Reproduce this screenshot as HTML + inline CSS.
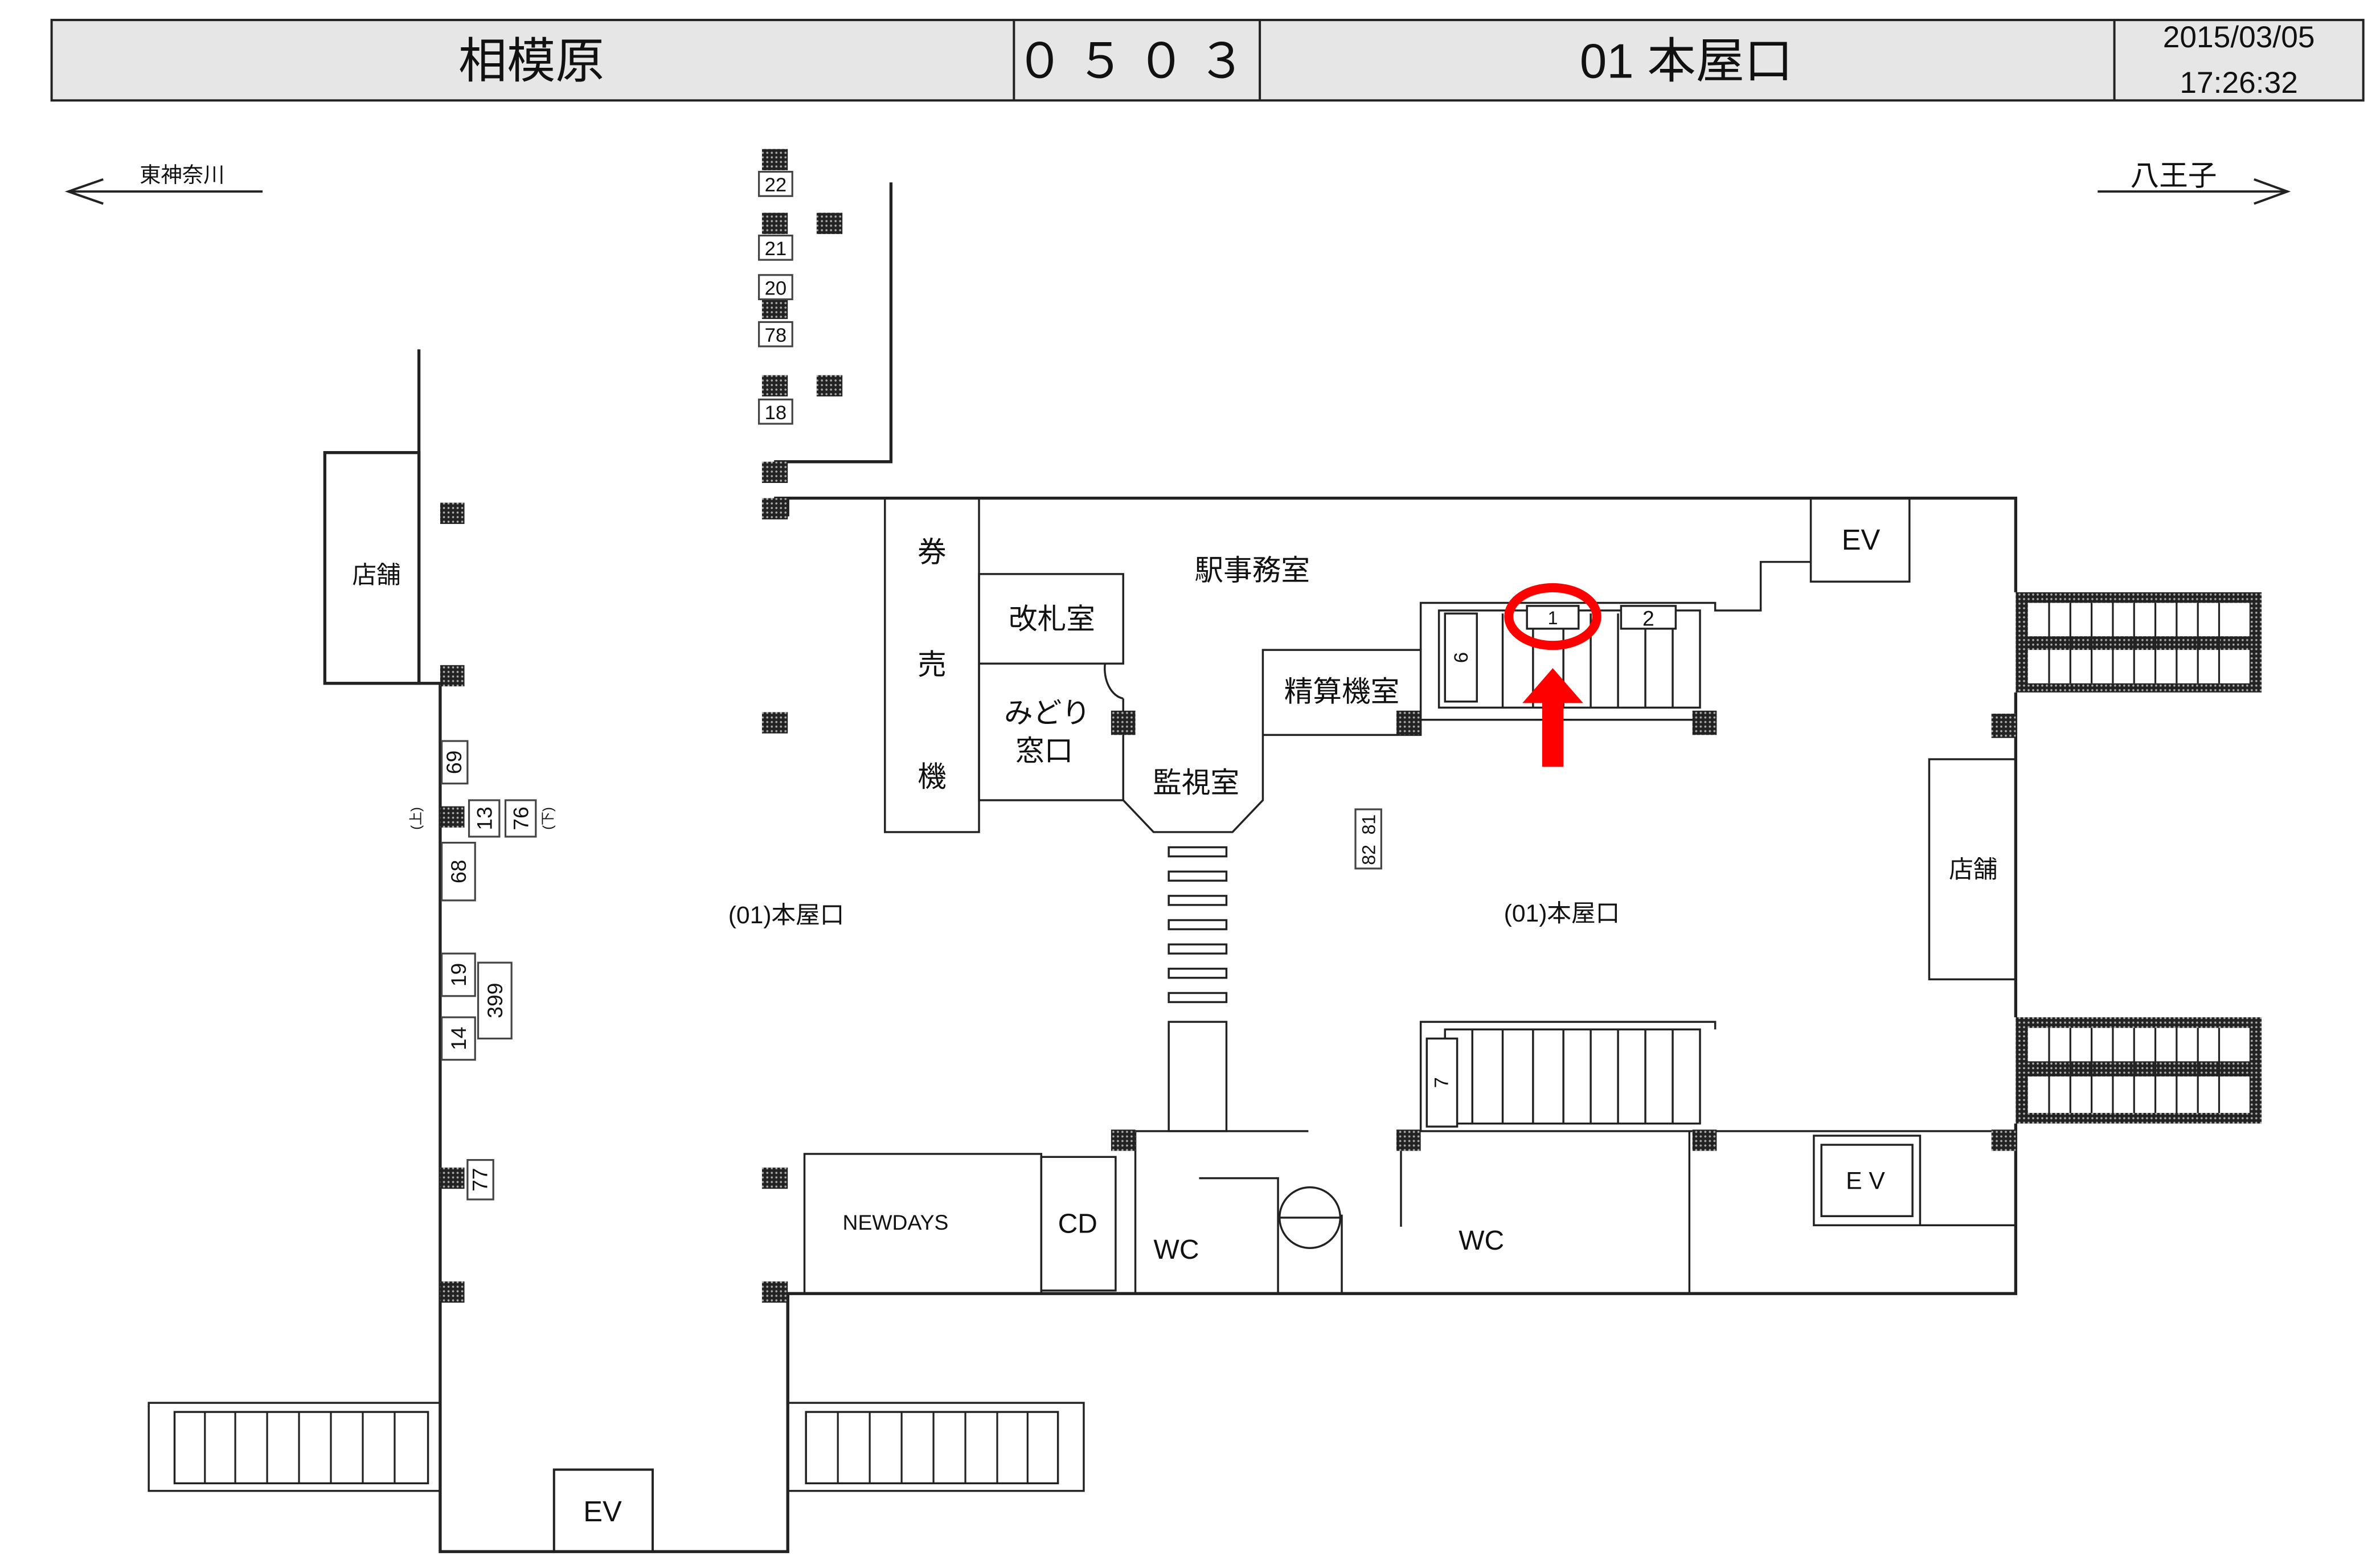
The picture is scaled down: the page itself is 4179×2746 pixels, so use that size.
<!DOCTYPE html>
<html><head><meta charset="utf-8"><style>
html,body{margin:0;padding:0;background:#fff;}
svg{display:block;}
text{font-family:"Liberation Sans","Noto Sans CJK JP",sans-serif;fill:#111;}
</style></head><body>
<svg width="4179" height="2746" viewBox="0 0 1568 1030" xmlns="http://www.w3.org/2000/svg">
<defs>
<pattern id="h" width="3" height="3" patternUnits="userSpaceOnUse"><rect width="3" height="3" fill="#222"/><circle cx="1.5" cy="1.5" r="0.7" fill="#aaa"/></pattern>
</defs>
<rect width="1568" height="1030" fill="#fff"/>
<!-- header -->
<rect x="34" y="13" width="1523" height="53" fill="#e6e6e6" stroke="#222" stroke-width="1.5"/>
<line x1="668" y1="13" x2="668" y2="66" stroke="#222" stroke-width="1.5"/>
<line x1="830" y1="13" x2="830" y2="66" stroke="#222" stroke-width="1.5"/>
<line x1="1393" y1="13" x2="1393" y2="66" stroke="#222" stroke-width="1.5"/>
<text x="350" y="51" font-size="32" text-anchor="middle">相模原</text>
<text x="749" y="51" font-size="32" text-anchor="middle" letter-spacing="8">０５０３</text>
<text x="1111" y="51" font-size="32" text-anchor="middle">01 本屋口</text>
<text x="1475" y="31" font-size="20" text-anchor="middle">2015/03/05</text>
<text x="1475" y="61" font-size="20" text-anchor="middle">17:26:32</text>
<!-- direction arrows -->
<g stroke="#222" stroke-width="1.5" fill="none">
<line x1="45" y1="126" x2="173" y2="126"/><polyline points="68,118 45,126 68,134"/>
<line x1="1382" y1="126" x2="1507" y2="126"/><polyline points="1485,118 1507,126 1485,134"/>
</g>
<text x="120" y="120" font-size="14" text-anchor="middle">東神奈川</text>
<text x="1432" y="122" font-size="19" text-anchor="middle">八王子</text>

<g stroke="#222" stroke-width="2" fill="none">
<!-- left corridor -->
<line x1="276" y1="230" x2="276" y2="450"/>
<rect x="214" y="298" width="62" height="152" fill="#fff"/>
<polyline points="276,450 290,450 290,1022 519,1022 519,852"/>
<rect x="365" y="968" width="65" height="54" stroke-width="1.5"/>
<!-- top area -->
<polyline points="587,120 587,304 510,304"/>
<!-- main -->
<polyline points="510,328 1328,328 1328,390"/>
<polyline points="1328,456 1328,670"/>
<polyline points="1328,740 1328,852 519,852 519,925"/>
<line x1="519" y1="328" x2="519" y2="340"/>
</g>
<g stroke="#222" stroke-width="1.3" fill="none">
<rect x="583" y="328" width="62" height="220"/>
<rect x="645" y="378" width="95" height="59"/>
<polyline points="645,437 645,527 740,527"/>
<path d="M728,437 A14 20 0 0 0 740,460"/>
<polyline points="740,460 740,527 760,548 812,548 832,527 832,428 936,428 936,484 832,484"/>
<!-- upper stairs -->
<polyline points="936,428 936,397 1130,397 1130,402 1160,402 1160,370 1193,370"/>
<rect x="1193" y="328" width="65" height="55"/>
<rect x="948" y="402" width="172" height="64"/>
<line x1="936" y1="474" x2="1130" y2="474"/>
<rect x="952" y="404" width="21" height="58"/>
<line x1="990" y1="404" x2="990" y2="466"/><line x1="1010" y1="404" x2="1010" y2="466"/><line x1="1030" y1="414" x2="1030" y2="466"/><line x1="1048" y1="404" x2="1048" y2="466"/><line x1="1066" y1="404" x2="1066" y2="466"/><line x1="1084" y1="414" x2="1084" y2="466"/><line x1="1102" y1="404" x2="1102" y2="466"/>
<rect x="1006" y="399" width="34" height="15" fill="#fff"/>
<rect x="1068" y="399" width="36" height="15" fill="#fff"/>
<!-- right shop -->
<rect x="1271" y="500" width="57" height="145"/>
<!-- lower stairs -->
<polyline points="936,745 936,673 1130,673 1130,678"/>
<rect x="952" y="678" width="168" height="62"/>
<rect x="940" y="684" width="20" height="58" fill="#fff"/>
<line x1="970" y1="678" x2="970" y2="740"/><line x1="990" y1="678" x2="990" y2="740"/><line x1="1010" y1="678" x2="1010" y2="740"/><line x1="1030" y1="678" x2="1030" y2="740"/><line x1="1048" y1="678" x2="1048" y2="740"/><line x1="1066" y1="678" x2="1066" y2="740"/><line x1="1084" y1="678" x2="1084" y2="740"/><line x1="1102" y1="678" x2="1102" y2="740"/>
<line x1="920" y1="745" x2="1328" y2="745"/>
<rect x="1195" y="748" width="70" height="59"/><rect x="1200" y="754" width="60" height="47"/>
<line x1="1265" y1="807" x2="1328" y2="807"/>
<!-- bottom rooms -->
<rect x="530" y="760" width="156" height="92"/>
<rect x="686" y="762" width="49" height="88"/>
<line x1="748" y1="745" x2="748" y2="852"/>
<line x1="740" y1="745" x2="862" y2="745"/>
<polyline points="790,776 842,776 842,852"/>
<circle cx="863" cy="802" r="20"/><line x1="843" y1="802" x2="883" y2="802"/>
<line x1="884" y1="800" x2="884" y2="852"/>
<line x1="923" y1="750" x2="923" y2="808"/>
<line x1="1113" y1="745" x2="1113" y2="852"/>
<rect x="770" y="673" width="38" height="72"/>
<!-- left bottom stairs -->
<rect x="98" y="924" width="192" height="58"/><rect x="115" y="930" width="167" height="47"/>
<rect x="519" y="924" width="195" height="58"/><rect x="531" y="930" width="166" height="47"/>
</g>
<!-- stair steps bottom -->
<g stroke="#222" stroke-width="1.2">
<line x1="135" y1="930" x2="135" y2="977"/><line x1="155" y1="930" x2="155" y2="977"/><line x1="176" y1="930" x2="176" y2="977"/><line x1="197" y1="930" x2="197" y2="977"/><line x1="218" y1="930" x2="218" y2="977"/><line x1="239" y1="930" x2="239" y2="977"/><line x1="260" y1="930" x2="260" y2="977"/>
<line x1="552" y1="930" x2="552" y2="977"/><line x1="573" y1="930" x2="573" y2="977"/><line x1="594" y1="930" x2="594" y2="977"/><line x1="615" y1="930" x2="615" y2="977"/><line x1="636" y1="930" x2="636" y2="977"/><line x1="657" y1="930" x2="657" y2="977"/><line x1="677" y1="930" x2="677" y2="977"/>
</g>
<!-- crosswalk -->
<g fill="#fff" stroke="#222" stroke-width="1.3">
<rect x="770" y="558" width="38" height="6"/><rect x="770" y="574" width="38" height="6"/><rect x="770" y="590" width="38" height="6"/><rect x="770" y="606" width="38" height="6"/><rect x="770" y="622" width="38" height="6"/><rect x="770" y="638" width="38" height="6"/><rect x="770" y="654" width="38" height="6"/>
</g>
<!-- right external stairs -->
<g>
<rect x="1328" y="390" width="162" height="66" fill="url(#h)"/>
<rect x="1336" y="397" width="146" height="22" fill="#fff"/>
<rect x="1336" y="428" width="146" height="22" fill="#fff"/>
<rect x="1328" y="670" width="162" height="70" fill="url(#h)"/>
<rect x="1336" y="677" width="146" height="22" fill="#fff"/>
<rect x="1336" y="709" width="146" height="24" fill="#fff"/>
<g stroke="#222" stroke-width="1.2">
<line x1="1350" y1="397" x2="1350" y2="450"/><line x1="1364" y1="397" x2="1364" y2="450"/><line x1="1378" y1="397" x2="1378" y2="450"/><line x1="1392" y1="397" x2="1392" y2="450"/><line x1="1406" y1="397" x2="1406" y2="450"/><line x1="1420" y1="397" x2="1420" y2="450"/><line x1="1434" y1="397" x2="1434" y2="450"/><line x1="1448" y1="397" x2="1448" y2="450"/><line x1="1462" y1="397" x2="1462" y2="450"/>
<line x1="1350" y1="677" x2="1350" y2="733"/><line x1="1364" y1="677" x2="1364" y2="733"/><line x1="1378" y1="677" x2="1378" y2="733"/><line x1="1392" y1="677" x2="1392" y2="733"/><line x1="1406" y1="677" x2="1406" y2="733"/><line x1="1420" y1="677" x2="1420" y2="733"/><line x1="1434" y1="677" x2="1434" y2="733"/><line x1="1448" y1="677" x2="1448" y2="733"/><line x1="1462" y1="677" x2="1462" y2="733"/>
</g>
</g>
<!-- hatched pillars -->
<g fill="url(#h)">
<rect x="502" y="98" width="17" height="14"/><rect x="502" y="140" width="17" height="14"/><rect x="538" y="140" width="17" height="14"/><rect x="502" y="196" width="17" height="14"/><rect x="502" y="247" width="17" height="14"/><rect x="538" y="247" width="17" height="14"/><rect x="502" y="304" width="17" height="14"/><rect x="502" y="328" width="17" height="14"/>
<rect x="290" y="331" width="16" height="14"/><rect x="290" y="438" width="16" height="14"/><rect x="290" y="531" width="16" height="14"/><rect x="290" y="769" width="16" height="14"/><rect x="290" y="844" width="16" height="14"/>
<rect x="502" y="469" width="17" height="14"/><rect x="502" y="769" width="17" height="14"/><rect x="502" y="844" width="17" height="14"/>
<rect x="732" y="468" width="16" height="16"/><rect x="732" y="744" width="16" height="14"/>
<rect x="920" y="468" width="16" height="16"/><rect x="920" y="744" width="16" height="14"/>
<rect x="1115" y="468" width="16" height="16"/><rect x="1115" y="744" width="16" height="14"/>
<rect x="1312" y="470" width="16" height="16"/><rect x="1312" y="744" width="16" height="14"/>
</g>
<!-- small number boxes -->
<g fill="#fff" stroke="#444" stroke-width="1.2">
<rect x="500" y="113" width="22" height="16"/><rect x="500" y="155" width="22" height="16"/><rect x="500" y="181" width="22" height="16"/><rect x="500" y="212" width="22" height="16"/><rect x="500" y="263" width="22" height="16"/>
<rect x="291" y="488" width="17" height="28"/><rect x="309" y="527" width="20" height="24"/><rect x="333" y="527" width="20" height="24"/><rect x="291" y="555" width="22" height="38"/><rect x="291" y="628" width="22" height="28"/><rect x="315" y="634" width="22" height="50"/><rect x="291" y="670" width="22" height="28"/><rect x="308" y="764" width="17" height="26"/>
<rect x="893" y="533" width="17" height="39"/>
</g>
<g font-size="13" text-anchor="middle">
<text x="511" y="126">22</text><text x="511" y="168">21</text><text x="511" y="194">20</text><text x="511" y="225">78</text><text x="511" y="276">18</text>
</g>
<g font-size="14" text-anchor="middle">
<text transform="translate(304,502) rotate(-90)">69</text>
<text transform="translate(324,539) rotate(-90)">13</text>
<text transform="translate(348,539) rotate(-90)">76</text>
<text transform="translate(307,574) rotate(-90)">68</text>
<text transform="translate(307,642) rotate(-90)">19</text>
<text transform="translate(331,659) rotate(-90)">399</text>
<text transform="translate(307,684) rotate(-90)">14</text>
<text transform="translate(321,777) rotate(-90)">77</text>
<text transform="translate(906,543) rotate(-90)" font-size="12">81</text>
<text transform="translate(906,563) rotate(-90)" font-size="12">82</text>
<text transform="translate(967,433) rotate(-90)" font-size="13">6</text>
<text transform="translate(954,713) rotate(-90)" font-size="13">7</text>
<text transform="translate(277,539) rotate(-90)" font-size="9" fill="#666">(上)</text>
<text transform="translate(364,539) rotate(-90)" font-size="9" fill="#666">(下)</text>
</g>
<text x="1023" y="411" font-size="12" text-anchor="middle">1</text>
<text x="1086" y="412" font-size="14" text-anchor="middle">2</text>
<!-- labels -->
<g font-size="19" text-anchor="middle">
<text x="248" y="384" font-size="16">店舗</text>
<text x="614" y="370">券</text><text x="614" y="444">売</text><text x="614" y="518">機</text>
<text x="693" y="414">改札室</text>
<text x="690" y="476">みどり</text><text x="688" y="501">窓口</text>
<text x="788" y="522">監視室</text>
<text x="884" y="462">精算機室</text>
<text x="825" y="382">駅事務室</text>
<text x="1226" y="362">EV</text>
<text x="1300" y="578" font-size="16">店舗</text>
<text x="518" y="608" font-size="16">(01)本屋口</text>
<text x="1029" y="607" font-size="16">(01)本屋口</text>
<text x="590" y="810" font-size="14">NEWDAYS</text>
<text x="710" y="812" font-size="18">CD</text>
<text x="775" y="829" font-size="18">WC</text>
<text x="976" y="823" font-size="18">WC</text>
<text x="1229" y="783" font-size="16">E V</text>
<text x="397" y="1002">EV</text>
</g>
<!-- red marker -->
<ellipse cx="1023" cy="406" rx="29" ry="19" fill="none" stroke="#f00" stroke-width="6"/>
<rect x="1016" y="460" width="14" height="45" fill="#f00"/>
<polygon points="1003,463 1023,440 1043,463" fill="#f00"/>
</svg>
</body></html>
